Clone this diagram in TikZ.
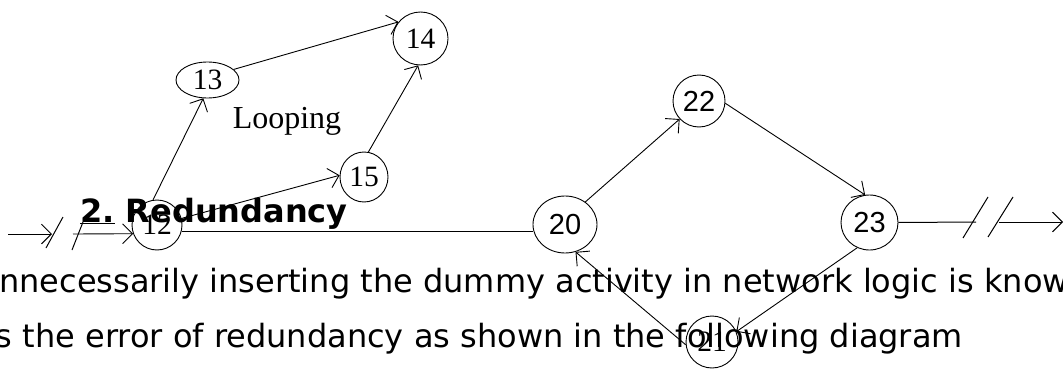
\documentclass[tikz,border=0pt]{standalone}
\usepackage{fontspec}
\usetikzlibrary{shapes.geometric,arrows.meta}
\newfontfamily\bodyfont{DejaVu Sans}
\newfontfamily\lblserif{Liberation Serif}
\newfontfamily\lblsans{Liberation Sans}
\begin{document}
\begin{tikzpicture}[x=1pt,y=-1pt,
  ev/.style={ellipse, draw, line width=0.9pt, inner sep=0pt},
  evs/.style={ev, font=\lblserif\fontsize{29.5}{30}\selectfont},
  evn/.style={ev, font=\lblsans\fontsize{29}{30}\selectfont},
  arr/.style={line width=0.9pt, -{Straight Barb[angle=90:14pt]}},
  ln/.style={line width=1pt},
  body/.style={font=\bodyfont\fontsize{32}{32}\selectfont, inner sep=0pt},
  ttl/.style={font=\bodyfont\bfseries\fontsize{32}{32}\selectfont, inner sep=0pt},
  lbl/.style={font=\lblserif\fontsize{32}{32}\selectfont, inner sep=0pt}
]
\useasboundingbox (0,0) rectangle (1063,369);
\clip (0,0) rectangle (1063,369);
% nodes
\node[evs, minimum width=50pt, minimum height=50pt] (n12) at (157,225) {12};
\node[evs, minimum width=63pt, minimum height=36pt] (n13) at (207.5,80) {13};
\node[evs, minimum width=55pt, minimum height=53pt] (n14) at (420.5,38.5) {14};
\node[evs, minimum width=48pt, minimum height=50pt] (n15) at (364,177) {15};
\node[evn, minimum width=64pt, minimum height=57pt] (n20) at (565,224.5) {20};
\node[evn, minimum width=52pt, minimum height=52pt] (n22) at (699,101) {22};
\node[evn, minimum width=57pt, minimum height=55pt] (n23) at (869.5,222.5) {23};
\node[evs, minimum width=52pt, minimum height=52pt] (n21) at (712,342) {21};
\node[lbl, anchor=base] (loop) at (287,128) {Looping};
% connectors
\draw[arr] (n12.99) -- (n13.257);
\draw[arr] (n13.22) -- (n14.143);
\draw[arr] (n12.15) -- (n15.176);
\draw[arr] (n15.80) -- (n14.265);
\draw[ln] (n12.-15) -- (n12.-15 -| n20.west);
\draw[arr] (n20.48) -- (n22.223);
\draw[arr] (n22.-5) -- (n23.99);
\draw[arr] (n23.244) -- (n21.23);
\draw[arr] (n21.186) -- (n20.291);
% left broken arrow
\coordinate (l0) at (8,234);
\coordinate (l1) at (52,234);
\coordinate (l2) at (73,234);
\draw[arr] (l0) -- (l1);
\draw[arr] (l2) -- (n12.200);
\draw[ln] (46,248) -- (63,217);
\draw[ln] (72,250) -- (83,222);
% right broken arrow
\coordinate (r1) at (976,222);
\coordinate (r2) at (999,222);
\coordinate (r3) at (1063,222);
\draw[ln] (n23.east) -- (r1);
\draw[arr] (r2) -- (r3);
\draw[ln] (963,238) -- (988,197);
\draw[ln] (988,237) -- (1013,197);
% texts
\node[ttl, anchor=base west] (title) at (80,222) {\underline{2.} Redundancy};
\node[body, anchor=base west] (t1) at (-1,292) {nnecessarily inserting the dummy activity in network logic is know};
\node[body, anchor=base east] (t2) at (963,347) {s the error of redundancy as shown in the following diagram};
\end{tikzpicture}
\end{document}
